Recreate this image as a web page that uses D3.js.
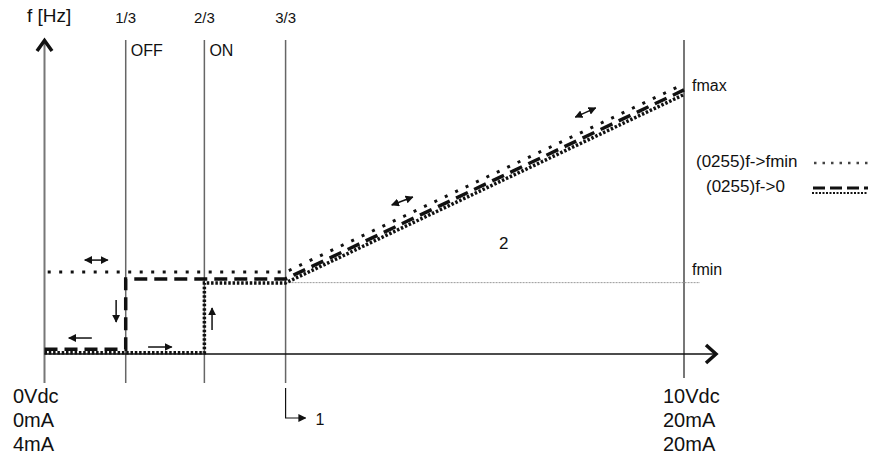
<!DOCTYPE html>
<html>
<head>
<meta charset="utf-8">
<script src="https://cdn.jsdelivr.net/npm/d3@7"></script>
<style>
  body { margin: 0; background: #fff; }
  svg text { font-family: "Liberation Sans", Arial, sans-serif; fill: #111; }
</style>
</head>
<body>
<script>
// input positions (schematic, 0..10 Vdc) and frequency (arbitrary units)
var marks = [
  { label: "1/3", v: 1.27, state: "OFF" },
  { label: "2/3", v: 2.5, state: "ON" },
  { label: "3/3", v: 3.77, state: "" }
];
var fmin = 25;
// (0255) f->fmin, dotted
var seriesFmin = [[0.05, 28.7], [3.77, 28.7], [10, 94.6]];
// (0255) f->0, falling path (dashed)
var seriesZeroDown = [[0, 1.7], [1.27, 1.7], [1.27, 26.3], [3.77, 26.3], [10, 92.5]];
// (0255) f->0, rising path (dense dots)
var seriesZeroUp = [[0, 0.4], [2.5, 0.4], [2.5, 24.9], [3.77, 24.9], [10, 90.9]];
var leftLabels = ["0Vdc", "0mA", "4mA"];
var rightLabels = ["10Vdc", "20mA", "20mA"];
// small direction arrows: [x1, y1, x2, y2, both ends?]
var arrows = [
  [0.63, 32.9, 0.99, 32.9, true],
  [0.74, 5.6, 0.38, 5.6, false],
  [1.12, 18.9, 1.12, 11.2, false],
  [1.62, 2.45, 1.99, 2.45, false],
  [2.62, 8.4, 2.62, 16.1, false],
  [5.43, 52.2, 5.76, 55.0, true],
  [8.30, 83.0, 8.62, 86.2, true]
];

var width = 871, height = 457;
var svg = d3.select("body").append("svg")
  .attr("width", width)
  .attr("height", height);

var x = d3.scaleLinear().domain([0, 10]).range([44.5, 684]);
var y = d3.scaleLinear().domain([0, 110]).range([354, 40]);

var defs = svg.append("defs");
defs.append("marker")
  .attr("id", "head")
  .attr("viewBox", "0 0 10 10")
  .attr("refX", 9).attr("refY", 5)
  .attr("markerWidth", 8).attr("markerHeight", 8)
  .attr("markerUnits", "userSpaceOnUse")
  .attr("orient", "auto-start-reverse")
  .append("path").attr("d", "M0,0L10,5L0,10z").attr("fill", "#111");

// vertical marker lines
svg.selectAll(".mark")
  .data(marks)
  .enter().append("line")
  .attr("x1", function(d) { return x(d.v); })
  .attr("x2", function(d) { return x(d.v); })
  .attr("y1", 40).attr("y2", 383)
  .attr("stroke", "#666").attr("stroke-width", 1.5);

svg.selectAll(".marklabel")
  .data(marks)
  .enter().append("text")
  .attr("x", function(d) { return x(d.v); })
  .attr("y", 23)
  .attr("text-anchor", "middle")
  .style("font-size", "15px")
  .text(function(d) { return d.label; });

svg.selectAll(".state")
  .data(marks.filter(function(d) { return d.state; }))
  .enter().append("text")
  .attr("x", function(d) { return x(d.v) + 5; })
  .attr("y", 56)
  .style("font-size", "16px")
  .text(function(d) { return d.state; });

// right end line (10 Vdc)
svg.append("line")
  .attr("x1", x(10)).attr("x2", x(10))
  .attr("y1", 40).attr("y2", 378)
  .attr("stroke", "#777").attr("stroke-width", 2);

// y axis
svg.append("line")
  .attr("x1", x(0)).attr("x2", x(0))
  .attr("y1", 42).attr("y2", 383)
  .attr("stroke", "#777").attr("stroke-width", 2);
svg.append("path")
  .attr("d", "M" + (x(0) - 7.5) + ",51L" + x(0) + ",40.5L" + (x(0) + 7.5) + ",51")
  .attr("fill", "none").attr("stroke", "#111").attr("stroke-width", 3.5);
svg.append("text")
  .attr("x", 27).attr("y", 22)
  .style("font-size", "19px")
  .text("f [Hz]");

// x axis
svg.append("line")
  .attr("x1", x(0)).attr("x2", 716)
  .attr("y1", y(0)).attr("y2", y(0))
  .attr("stroke", "#111").attr("stroke-width", 1.5);
svg.append("path")
  .attr("d", "M706," + (y(0) - 9) + "L716," + y(0) + "L706," + (y(0) + 9))
  .attr("fill", "none").attr("stroke", "#111").attr("stroke-width", 3.5);

// fmin reference
svg.append("line")
  .attr("x1", x(3.77)).attr("x2", 700)
  .attr("y1", y(fmin)).attr("y2", y(fmin))
  .attr("stroke", "#999").attr("stroke-width", 1)
  .attr("stroke-dasharray", "2,1");

var line = d3.line()
  .x(function(d) { return x(d[0]); })
  .y(function(d) { return y(d[1]); });

svg.append("path").datum(seriesZeroUp)
  .attr("d", line).attr("fill", "none")
  .attr("stroke", "#111").attr("stroke-width", 3.5)
  .attr("stroke-dasharray", "2.5,1.8");
svg.append("path").datum(seriesZeroDown)
  .attr("d", line).attr("fill", "none")
  .attr("stroke", "#111").attr("stroke-width", 3.5)
  .attr("stroke-dasharray", "13,7");
svg.append("path").datum(seriesFmin)
  .attr("d", line).attr("fill", "none")
  .attr("stroke", "#111").attr("stroke-width", 3)
  .attr("stroke-dasharray", "3,8.5");

// direction arrows
svg.selectAll(".arrow")
  .data(arrows)
  .enter().append("line")
  .attr("x1", function(d) { return x(d[0]); })
  .attr("y1", function(d) { return y(d[1]); })
  .attr("x2", function(d) { return x(d[2]); })
  .attr("y2", function(d) { return y(d[3]); })
  .attr("stroke", "#111").attr("stroke-width", 1.5)
  .attr("marker-end", "url(#head)")
  .attr("marker-start", function(d) { return d[4] ? "url(#head)" : null; });

svg.append("text")
  .attr("x", 499).attr("y", 249)
  .style("font-size", "17px")
  .text("2");

// point 1 marker
var x3 = x(3.77);
svg.append("path")
  .attr("d", "M" + x3 + ",388V418H" + (x3 + 20))
  .attr("fill", "none").attr("stroke", "#111").attr("stroke-width", 1.2)
  .attr("marker-end", "url(#head)");
svg.append("text")
  .attr("x", x3 + 30).attr("y", 425)
  .style("font-size", "16px")
  .text("1");

// fmax / fmin labels
svg.append("text").attr("x", 692).attr("y", 91)
  .style("font-size", "16px").text("fmax");
svg.append("text").attr("x", 692).attr("y", 275)
  .style("font-size", "16px").text("fmin");

// legend
svg.append("text").attr("x", 696).attr("y", 167)
  .style("font-size", "17px").text("(0255)f->fmin");
svg.append("line")
  .attr("x1", 814).attr("x2", 868).attr("y1", 163).attr("y2", 163)
  .attr("stroke", "#444").attr("stroke-width", 2.5)
  .attr("stroke-dasharray", "2.5,6");
svg.append("text").attr("x", 706).attr("y", 192)
  .style("font-size", "17px").text("(0255)f->0");
svg.append("line")
  .attr("x1", 813).attr("x2", 868).attr("y1", 188).attr("y2", 188)
  .attr("stroke", "#111").attr("stroke-width", 3)
  .attr("stroke-dasharray", "12,5");
svg.append("line")
  .attr("x1", 812).attr("x2", 868).attr("y1", 193).attr("y2", 193)
  .attr("stroke", "#111").attr("stroke-width", 2)
  .attr("stroke-dasharray", "2,1.5");

// bottom labels
svg.selectAll(".ll")
  .data(leftLabels)
  .enter().append("text")
  .attr("x", 13)
  .attr("y", function(d, i) { return 403 + i * 24; })
  .style("font-size", "20px")
  .text(function(d) { return d; });
svg.selectAll(".rl")
  .data(rightLabels)
  .enter().append("text")
  .attr("x", 663)
  .attr("y", function(d, i) { return 403 + i * 24; })
  .style("font-size", "20px")
  .text(function(d) { return d; });
</script>
</body>
</html>
